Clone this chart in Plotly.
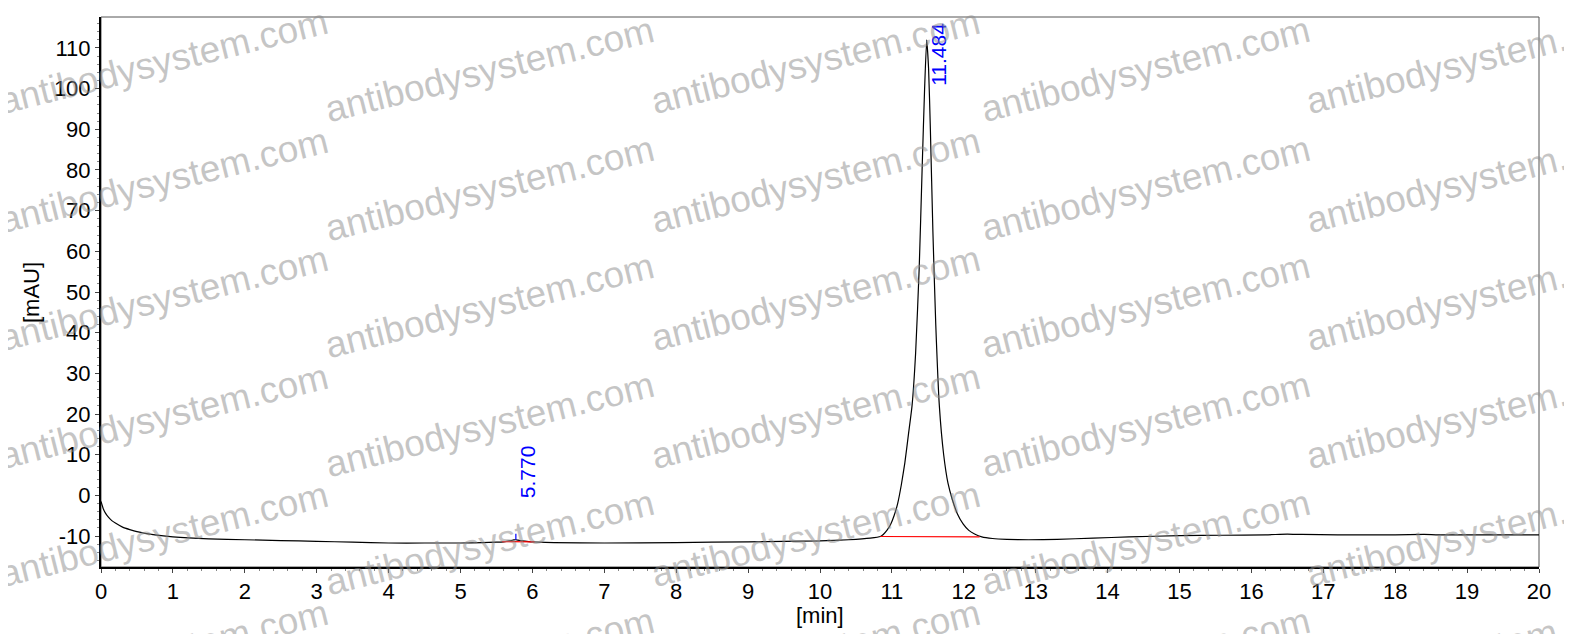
import plotly.graph_objects as go

# chromatogram: time [min] / signal [mAU]
time_min = [0.0, 0.03, 0.06, 0.1, 0.15, 0.2, 0.3, 0.4, 0.5, 0.75, 1.0, 1.5, 2.0, 2.5, 3.0,
            3.5, 4.0, 4.5, 5.0, 5.3, 5.5, 5.6, 5.68, 5.74, 5.77, 5.8, 5.86, 5.95, 6.05, 6.3,
            7.0, 8.0, 9.0, 9.5, 10.0, 10.4, 10.7, 10.84, 10.88, 10.93, 10.98, 11.03, 11.08,
            11.13, 11.18, 11.23, 11.28, 11.33, 11.38, 11.42, 11.455, 11.484, 11.51, 11.535,
            11.57, 11.61, 11.66, 11.72, 11.78, 11.84, 11.91, 11.99, 12.07, 12.15, 12.25,
            12.4, 12.6, 12.9, 13.3, 13.8, 14.3, 15.0, 15.6, 16.2, 16.5, 16.7, 17.2, 18.0,
            18.4, 18.6, 19.2, 20.0]
signal_mau = [-1.5, -3.2, -4.3, -5.3, -6.2, -6.8, -7.8, -8.4, -8.9, -9.7, -10.2, -10.7, -10.9, -11.1, -11.3,
              -11.5, -11.7, -11.7, -11.7, -11.6, -11.5, -11.4, -11.2, -10.95, -10.9, -11.0, -11.2, -11.35, -11.45, -11.6,
              -11.7, -11.6, -11.4, -11.3, -11.2, -10.9, -10.5, -10.1, -9.6, -8.6, -7.2, -5.0, -2.0,
              2.5, 8.0, 15.0, 22.0, 35.0, 56.0, 80.0, 100.0, 112.0, 105.0, 90.0,
              65.0, 42.0, 22.0, 10.0, 3.0, -1.0, -4.5, -7.0, -8.6, -9.5, -10.2,
              -10.6, -10.8, -10.9, -10.8, -10.5, -10.2, -9.9, -9.8, -9.7, -9.5, -9.6, -9.7, -9.7,
              -9.6, -9.7, -9.7, -9.7]

# integrated peaks
peak_times = [5.770, 11.484]
peak_heights = [-10.9, 112.0]
peak_labels = ["5.770", "11.484"]

# red integration baselines
base_start = [5.58, 10.84]
base_end = [6.03, 12.22]
base_start_level = [-11.35, -10.1]
base_end_level = [-11.4, -10.2]

x_ticks = list(range(0, 21))
y_ticks = list(range(-10, 111, 10))
y_ticktext = [str(v) for v in y_ticks]  # plain hyphen like the original

FONT = "Arial, Liberation Sans, sans-serif"

# the page body has an 8px margin, so work in page pixels and shift
OFF = 8
FIG_W, FIG_H = 1572 - OFF, 634 - OFF
L, T, W, H = 101 - OFF, 17 - OFF, 1438, 550


def px_to_paper(px, py):
    # page pixel (as in the reference) -> paper coords
    return (px - OFF - L) / W, (T + H - (py - OFF)) / H


fig = go.Figure()

fig.add_trace(go.Scatter(
    x=time_min, y=signal_mau, mode="lines",
    line=dict(color="black", width=1.2, shape="spline", smoothing=0.5),
    hoverinfo="skip", showlegend=False
))

for xs, xe, ys, ye in zip(base_start, base_end, base_start_level, base_end_level):
    fig.add_trace(go.Scatter(
        x=[xs, xe], y=[ys, ye], mode="lines",
        line=dict(color="red", width=1.2),
        hoverinfo="skip", showlegend=False
    ))

# small blue apex marker on the minor peak
fig.add_trace(go.Scatter(
    x=[peak_times[0], peak_times[0]], y=[peak_heights[0], peak_heights[0] + 1.5],
    mode="lines", line=dict(color="blue", width=1.2),
    hoverinfo="skip", showlegend=False
))

# peak labels (rotated, blue)
label_dx = [0.155, 0.155]
label_dy = [16.6, -3.5]
for t, h, lab, dx, dy in zip(peak_times, peak_heights, peak_labels, label_dx, label_dy):
    fig.add_annotation(
        x=t + dx, y=h + dy, text=lab, textangle=-90, showarrow=False,
        xanchor="center", yanchor="middle",
        font=dict(family=FONT, size=21, color="blue")
    )

# watermark grid
wm_cols = [163, 490, 815, 1145, 1470]
wm_dy = [0, 8, 0, 8, 0]
wm_rows = [62, 180, 298, 416, 534, 652]
for cx, dy in zip(wm_cols, wm_dy):
    for cy in wm_rows:
        px, py = px_to_paper(cx, cy + dy)
        fig.add_annotation(
            xref="paper", yref="paper", x=px, y=py,
            text="antibodysystem.com", textangle=-14, showarrow=False,
            xanchor="center", yanchor="middle",
            font=dict(family=FONT, size=37, color="rgba(140,140,140,0.5)")
        )

# axis titles
tx, ty = px_to_paper(820, 615)
fig.add_annotation(xref="paper", yref="paper", x=tx, y=ty,
                   text="[min]", showarrow=False, xanchor="center", yanchor="middle",
                   font=dict(family=FONT, size=22, color="black"))
tx, ty = px_to_paper(31, 293)
fig.add_annotation(xref="paper", yref="paper", x=tx, y=ty,
                   text="[mAU]", textangle=-90, showarrow=False, xanchor="center", yanchor="middle",
                   font=dict(family=FONT, size=22, color="black"))

# gray frame on top/right
fig.add_shape(type="rect", xref="paper", yref="paper", x0=0, y0=0, x1=1, y1=1,
              line=dict(color="#555555", width=1), layer="below")

fig.update_layout(
    width=FIG_W, height=FIG_H,
    margin=dict(l=L, r=FIG_W - L - W, t=T, b=FIG_H - T - H, autoexpand=False),
    paper_bgcolor="white", plot_bgcolor="white",
    font=dict(family=FONT, size=22, color="black"),
    xaxis=dict(
        range=[0, 20], tickvals=x_ticks, showgrid=False, zeroline=False, automargin=False,
        showline=True, linecolor="black", linewidth=2,
        ticks="outside", ticklen=4, tickwidth=1, tickcolor="#444444",
        minor=dict(dtick=0.2, ticks="outside", ticklen=2, tickcolor="#888888"),
        tickfont=dict(size=22),
    ),
    yaxis=dict(
        range=[-17.6, 117.6], tickvals=y_ticks, ticktext=y_ticktext,
        showgrid=False, zeroline=False, automargin=False,
        showline=True, linecolor="black", linewidth=2,
        ticks="outside", ticklen=4, tickwidth=1, tickcolor="#444444",
        minor=dict(dtick=2, ticks="outside", ticklen=2, tickcolor="#888888"),
        tickfont=dict(size=22),
    ),
)

fig.write_html("out.html")
